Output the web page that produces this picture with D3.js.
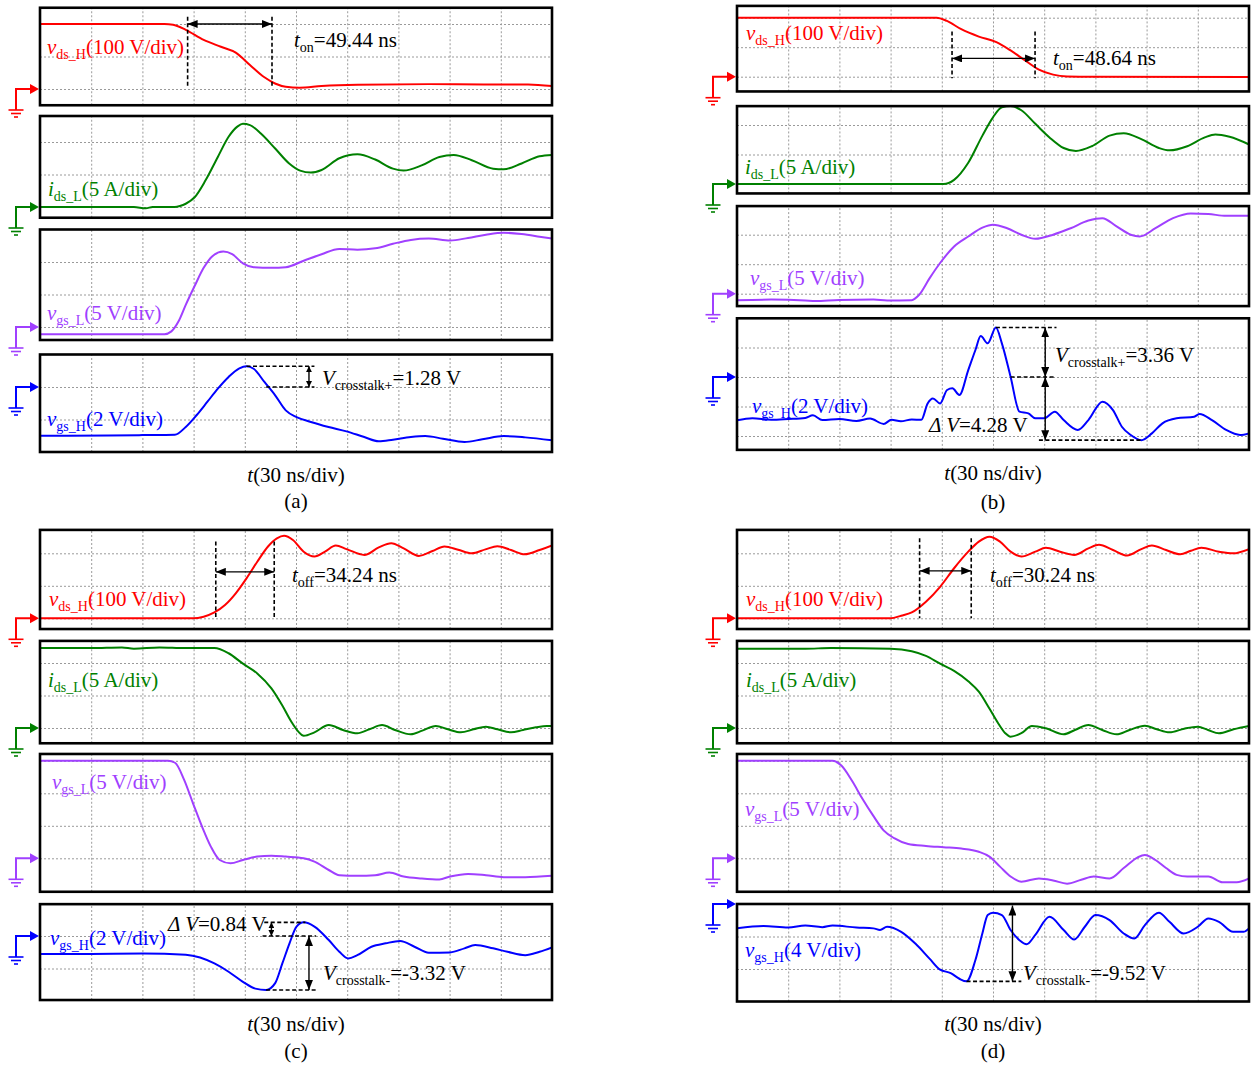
<!DOCTYPE html>
<html>
<head>
<meta charset="utf-8">
<script src="https://cdn.jsdelivr.net/npm/d3@7"></script>
<style>
  body { margin: 0; background: #fff; }
  svg { display: block; }
  text { font-family: "Liberation Serif", "Times New Roman", serif; }
</style>
</head>
<body>
<svg id="chart" width="1254" height="1068"></svg>
<script>
// ---------- time base: 10 divisions x 30 ns ----------
const TIME_SPAN = [0, 300];                 // ns
const timeGrid = [30, 60, 90, 120, 150, 180, 210, 240, 270];

// ---------- (a) turn-on, vgs_H at 2 V/div ----------  [t (ns), value]
const aVdsH = [[0,200],[72.9,200],[78,198],[85.4,182],[95.9,151],[106,130],[114.7,112],[123,74],[131.5,36],[137.7,17],[144,7],[152,4],[165,9],[186,13],[228,15],[260,14],[286,14],[300,9]];
const aIdsL = [[0,0],[55,0],[62,-0.2],[66,0],[79,0],[82,0.15],[85.4,0.5],[90.6,1.5],[97,4.1],[104.2,7.7],[110.5,10.8],[115.8,12.4],[118.9,12.8],[123,12.6],[129.4,11.3],[137.8,9.0],[146,6.7],[152.4,5.6],[158.7,5.3],[165,5.7],[175.4,7.5],[186,8.1],[196.4,7.3],[206.8,5.9],[213,5.6],[223.6,6.4],[234,7.7],[242.4,8.0],[253,7.2],[265.5,5.9],[271.7,5.8],[282.2,6.7],[292.7,7.8],[300,8.0]];
const aVgsL = [[0,-1.1],[72.9,-1.1],[77,-0.67],[81.2,0.87],[85.4,3.4],[90.6,6.3],[95.9,9.1],[101,10.9],[107.4,11.6],[112.6,11.2],[118.9,9.8],[125.2,9.2],[135.6,9.1],[144,9.2],[154.5,10.2],[165,11.2],[175.4,12],[186,11.9],[196.4,12.1],[206.8,12.8],[217.3,13.4],[227.8,13.6],[240.3,13.3],[250.8,13.7],[261.3,14.2],[271.7,14.5],[282.2,14.3],[292.7,13.9],[300,13.6]];
const aVgsH = [[0,-3],[40,-2.98],[60,-2.96],[79,-2.94],[85.4,-2.46],[91.7,-1.74],[98,-0.92],[104.2,-0.1],[110.5,0.62],[116.8,1.15],[121,1.28],[125.2,1.12],[131.5,0.31],[137.8,-0.51],[144,-1.44],[150.3,-1.85],[158.7,-2.15],[169.1,-2.46],[179.6,-2.73],[190,-3.08],[198.5,-3.34],[206.8,-3.24],[217.3,-3.08],[225.7,-3.02],[236.1,-3.18],[248.7,-3.38],[259.2,-3.22],[271.7,-3.02],[284.3,-3.1],[300,-3.28]];

// ---------- (b) turn-on, vgs_H at 2 V/div ----------
const bVdsH = [[0,200],[116.9,200],[123,189],[131.4,161],[141.7,136],[152,117],[160.3,89],[168.6,56],[176.9,24],[185.2,7],[193.4,1],[210,0],[300,-1]];
const bIdsL = [[0,0],[121,0],[127.2,0.7],[135.5,3.6],[143.8,8.2],[150,11.3],[155.2,13],[160.3,13.2],[166.6,12.5],[174.8,10.2],[183.1,7.9],[191.4,6.1],[198.6,5.6],[207.9,6.4],[218.3,8.2],[226.6,8.6],[236.9,7.6],[247.2,6.1],[253.4,5.7],[263.8,6.4],[274.1,7.9],[280.3,8.4],[288.6,8.0],[300,6.7]];
const bVgsL = [[0,-1.1],[20,-1.0],[40,-1.15],[46,-1.25],[60,-1.05],[80,-1.0],[88,-1.15],[102.4,-1.1],[106.6,-0.23],[112.8,2.6],[119,5.2],[127.2,8.0],[135.5,9.7],[143.8,11.2],[150,11.7],[158.3,11.1],[166.6,10],[174.8,9.3],[185.2,10],[195.5,11.1],[205.9,12.4],[214.1,12.8],[222.4,11.4],[230.7,10],[235.9,9.7],[245.2,11.1],[255.5,12.8],[265.9,13.6],[276.2,13.5],[286.6,13.2],[300,13.2]];
const bVgsH = [[0,-2.94],[9,-2.8],[20,-2.9],[30,-2.85],[40,-2.78],[44.5,-2.6],[50,-2.92],[60,-2.85],[70,-2.98],[78,-2.82],[85.9,-3.18],[90.5,-2.9],[96,-3.0],[102.4,-2.88],[108,-2.9],[111.7,-1.79],[114.8,-1.45],[119,-1.79],[123.1,-0.88],[126.2,-0.77],[130.3,-1.22],[135.5,0.47],[139.7,1.83],[142.8,2.78],[146.9,2.28],[151.7,3.36],[155.2,2.28],[160.3,0.02],[165.5,-2.35],[170.7,-2.47],[174.8,-2.8],[180,-2.8],[186.2,-2.35],[191.4,-2.92],[199.7,-3.59],[205.9,-2.92],[214.1,-1.67],[220.3,-2.24],[225.5,-3.37],[230.7,-3.93],[237,-4.28],[243.1,-3.82],[249.3,-3.14],[257.6,-2.8],[267.9,-2.69],[271,-2.51],[278.3,-2.92],[286.6,-3.59],[294.8,-3.93],[300,-3.82]];

// ---------- (c) turn-off, vgs_H at 2 V/div ----------
const cVdsH = [[0,0],[89.6,0],[95.9,5],[102.2,18],[108.4,41],[114.7,77],[121,123],[127.3,174],[133.6,221],[138.8,246],[143,254],[148.2,241],[154.5,205],[160.8,190],[167,205],[173.3,224],[179.6,213],[190,195],[198.5,218],[205.8,231],[213.1,215],[222,192],[230,207],[237,221],[245,211],[253,200],[261,212],[268,222],[276,210],[284,197],[292.7,210],[300,224]];
const cIdsL = [[0,12.3],[30,12.3],[48,12.4],[55,12.2],[70,12.4],[85,12.3],[102.2,12.3],[110.5,11.5],[118.9,9.9],[127.3,8.4],[135.6,6.1],[141.9,3.5],[147.2,1.0],[151.4,-0.56],[154.5,-1.2],[160.8,-0.67],[169.2,0.46],[177.5,-0.3],[185.9,-0.82],[193,-0.2],[200.4,0.46],[208,-0.3],[217.2,-0.97],[224,-0.4],[231.9,0.31],[239,-0.2],[246.6,-0.67],[254,-0.2],[261.3,0.21],[268,-0.2],[276,-0.67],[283,-0.3],[290.6,0.1],[297,0.31],[300,0.3]];
const cVgsL = [[0,15],[75,15],[79.1,14.7],[84.4,12.1],[89.6,8.5],[94.9,4.9],[100.1,1.8],[105.3,-0.26],[111.6,-0.77],[118.9,-0.26],[127.3,0.26],[135.6,0.41],[144,0.26],[154.5,0],[160.8,-0.52],[169.2,-1.8],[175.4,-2.6],[185.9,-2.7],[196.4,-2.6],[204.7,-2.2],[213.1,-2.8],[223.6,-3.1],[234,-3.25],[240.3,-2.8],[250.8,-2.4],[261.3,-2.6],[271.7,-2.9],[284.3,-2.9],[300,-2.7]];
const cVgsH = [[0,-1.11],[30,-1.1],[60.3,-1.07],[85.4,-1.15],[93.8,-1.32],[102.2,-1.69],[110.5,-2.2],[118.9,-2.82],[126.2,-3.24],[132.5,-3.32],[137.8,-2.9],[142,-1.69],[146.2,-0.45],[150.3,0.58],[154.5,0.84],[160.8,0.58],[169.2,-0.25],[175.4,-0.97],[180.6,-1.38],[185.9,-1.18],[194.2,-0.66],[202.6,-0.45],[211,-0.31],[219.4,-0.66],[227.8,-1.03],[240.3,-1.01],[248.7,-0.76],[255,-0.56],[265.5,-0.76],[273.9,-0.97],[284.3,-1.18],[292.7,-0.97],[300,-0.7]];

// ---------- (d) turn-off, vgs_H at 4 V/div ----------
const dVdsH = [[0,0],[90,0],[96.2,8],[102.4,18],[110.7,51],[119,97],[127.2,154],[135.5,205],[141.7,236],[147.9,251],[154.1,236],[160.3,205],[166.6,190],[174.8,205],[181,217],[189.3,205],[197.6,195],[205.9,215],[212.1,226],[220.3,210],[228.6,193],[236.9,213],[243.1,224],[251.4,210],[259.7,197],[266,208],[272.1,217],[282.4,205],[290.7,200],[300,213]];
const dIdsL = [[0,12.2],[40,12.2],[55,12.3],[90,12.2],[102.4,11.8],[110.7,11.1],[119,9.9],[127.2,8.8],[135.5,7.2],[141.7,5.6],[147.9,3.0],[153.1,0.7],[157.2,-0.8],[160.3,-1.33],[166.6,-0.8],[172.8,0.3],[181,-0.05],[191.4,-0.97],[198,-0.3],[205.9,0.46],[214,-0.3],[222.4,-0.97],[230,-0.3],[239,0.36],[246,-0.2],[253.4,-0.67],[262,-0.1],[270,0.2],[276,-0.3],[282.4,-0.82],[291,-0.2],[300,0.31]];
const dVgsL = [[0,15],[55.9,15],[61,14.3],[67.2,12.0],[73.4,9.2],[79.7,6.6],[85.9,4.3],[92.1,3.1],[100.3,2.2],[110.7,1.9],[121,1.7],[131.4,1.5],[141.7,1.0],[147.9,0.26],[154.1,-1.28],[160.3,-2.8],[166.6,-3.6],[176.9,-3.1],[185.2,-3.4],[193.4,-3.9],[201.7,-3.3],[209,-2.8],[218.3,-3.1],[226.6,-1.5],[234.8,0.15],[239,0.5],[245.2,-0.26],[251.4,-1.5],[257.6,-2.55],[263.8,-2.8],[276.2,-2.8],[284.5,-3.7],[292.8,-3.7],[300,-3.1]];
const dVgsH = [[0,-3.0],[15.5,-2.7],[30,-2.9],[40,-2.65],[50,-2.85],[56,-2.65],[70,-2.9],[80,-3.0],[83.8,-3.2],[87.9,-2.8],[96.2,-3.42],[104.5,-4.87],[112.8,-6.72],[119,-8.08],[125.2,-8.5],[130.3,-9.2],[134.5,-9.52],[139.7,-6.9],[143.8,-3.6],[146.9,-1.36],[150,-1.07],[155.2,-1.36],[160.3,-3.2],[165.5,-4.45],[169.7,-4.95],[174.8,-3.8],[183.1,-1.57],[191.4,-3.2],[197.6,-4.37],[203.8,-2.8],[210,-1.36],[218.3,-1.98],[226.6,-3.63],[232.8,-4.25],[239,-2.6],[247.2,-1.07],[253.4,-2.19],[261.7,-3.63],[270,-2.8],[276.2,-1.77],[282.4,-2.19],[290.7,-3.42],[296.9,-3.42],[300,-3.0]];

// ---------- switching-time and crosstalk annotations ----------
const switchName  = ['on', 'on', 'off', 'off'];
const switchDur   = [49.44, 48.64, 34.24, 30.24];  // ns
const switchStart = [86.5, 126, 103, 107];         // ns
const switchLevel = [200, 62, 143, 146];           // V, height of the arrow on v_ds_H
const switchDash  = [[222, 5], [153, -5], [236, 0], [246, 0]]; // V, extent of marker lines
const crosstalkPos = [1.28, 3.36, null, null];     // V
const crosstalkNeg = [null, null, -3.32, -9.52];   // V
const deltaV       = [null, 4.28, 0.84, null];     // V

// ---------- channels ----------
const channels = {
  vds:   { color: '#ff0000', perDiv: 100, name: ['v', 'ds_H', '(100 V/div)'] },
  ids:   { color: '#008000', perDiv: 5,   name: ['i', 'ds_L', '(5 A/div)'] },
  vgsL:  { color: '#a040ff', perDiv: 5,   name: ['v', 'gs_L', '(5 V/div)'] },
  vgsH2: { color: '#0000ff', perDiv: 2,   name: ['v', 'gs_H', '(2 V/div)'] },
  vgsH4: { color: '#0000ff', perDiv: 4,   name: ['v', 'gs_H', '(4 V/div)'] }
};
const captions = ['(a)', '(b)', '(c)', '(d)'];

// ---------- layout ----------
const panels = [
  { x0: 40, x1: 552, tLabelY: 482, capY: 508,
    sw: { x: 294, y: 47 }, rows: [
    { ch: 'vds',   data: aVdsH, zeroY: 89,    divPx: 32.5, top: 2.5,  bot: -0.5,  lx: 47,  ly: 54 },
    { ch: 'ids',   data: aIdsL, zeroY: 207,   divPx: 32.5, top: 2.8,  bot: -0.33, lx: 48,  ly: 196 },
    { ch: 'vgsL',  data: aVgsL, zeroY: 327,   divPx: 32.5, top: 3.0,  bot: -0.4,  lx: 47,  ly: 320 },
    { ch: 'vgsH2', data: aVgsH, zeroY: 387,   divPx: 32.5, top: 1.0,  bot: -2.0,  lx: 47,  ly: 426 }]},
  { x0: 737, x1: 1249, tLabelY: 480, capY: 509,
    sw: { x: 1053, y: 65 }, rows: [
    { ch: 'vds',   data: bVdsH, zeroY: 76.7,  divPx: 29.5, top: 2.4,  bot: -0.5,  lx: 746, ly: 40 },
    { ch: 'ids',   data: bIdsL, zeroY: 184,   divPx: 29.5, top: 2.64, bot: -0.32, lx: 745, ly: 174 },
    { ch: 'vgsL',  data: bVgsL, zeroY: 293.7, divPx: 29.5, top: 2.97, bot: -0.42, lx: 750, ly: 285 },
    { ch: 'vgsH2', data: bVgsH, zeroY: 377,   divPx: 29.5, top: 1.99, bot: -2.47, lx: 752, ly: 413 }]},
  { x0: 40, x1: 552, tLabelY: 1031, capY: 1058,
    sw: { x: 292, y: 582 }, rows: [
    { ch: 'vds',   data: cVdsH, zeroY: 618.3, divPx: 32.5, top: 2.72, bot: -0.33, lx: 49,  ly: 606 },
    { ch: 'ids',   data: cIdsL, zeroY: 728,   divPx: 32.5, top: 2.68, bot: -0.47, lx: 48,  ly: 687 },
    { ch: 'vgsL',  data: cVgsL, zeroY: 858.3, divPx: 32.5, top: 3.21, bot: -1.03, lx: 52,  ly: 789 },
    { ch: 'vgsH2', data: cVgsH, zeroY: 936,   divPx: 32.5, top: 0.98, bot: -1.97, lx: 50,  ly: 945 }]},
  { x0: 737, x1: 1249, tLabelY: 1031, capY: 1058,
    sw: { x: 990, y: 582 }, rows: [
    { ch: 'vds',   data: dVdsH, zeroY: 618.3, divPx: 32.5, top: 2.72, bot: -0.33, lx: 746, ly: 606 },
    { ch: 'ids',   data: dIdsL, zeroY: 728,   divPx: 32.5, top: 2.68, bot: -0.47, lx: 746, ly: 687 },
    { ch: 'vgsL',  data: dVgsL, zeroY: 858.3, divPx: 32.5, top: 3.21, bot: -1.03, lx: 745, ly: 816 },
    { ch: 'vgsH4', data: dVgsH, zeroY: 904,   divPx: 32.5, top: 0,    bot: -3.0,  lx: 745, ly: 957 }]}
];

const FONT = 21, SUB_FONT = 14, SUB_SHIFT = 5;

const svg = d3.select('#chart');
const defs = svg.append('defs');

function addMarker(id, len, wid) {
  defs.append('marker')
    .attr('id', id)
    .attr('viewBox', `0 0 ${len} ${wid}`)
    .attr('refX', len).attr('refY', wid / 2)
    .attr('markerWidth', len).attr('markerHeight', wid)
    .attr('markerUnits', 'userSpaceOnUse')
    .attr('orient', 'auto-start-reverse')
    .append('path')
    .attr('d', `M0,0L${len},${wid / 2}L0,${wid}Z`)
    .attr('fill', '#000');
}
addMarker('ah', 10, 8);
addMarker('ahS', 6, 6);

// text with italic symbol and subscript parts
function richText(g, x, y, parts, fill, anchor) {
  const t = g.append('text')
    .attr('x', x).attr('y', y)
    .attr('fill', fill)
    .attr('font-size', FONT)
    .attr('text-anchor', anchor || 'start');
  let shift = 0;
  parts.forEach(([s, k]) => {
    const sp = t.append('tspan').text(s);
    const target = k === 's' ? SUB_SHIFT : 0;
    if (target !== shift) { sp.attr('dy', target - shift); shift = target; }
    if (k === 's') sp.attr('font-size', SUB_FONT);
    if (k === 'i') sp.attr('font-style', 'italic');
  });
  return t;
}

// probe reference symbol: arrow to the zero level plus ground sign
function groundMarker(g, x0, y0, color) {
  const sx = x0 - 24;
  g.append('path')
    .attr('d', `M${sx},${y0 + 21}V${y0}H${x0 - 9}`)
    .attr('stroke', color).attr('stroke-width', 2).attr('fill', 'none');
  g.append('path')
    .attr('d', `M${x0 - 10},${y0 - 5}L${x0 - 1},${y0}L${x0 - 10},${y0 + 5}Z`)
    .attr('fill', color);
  [[7.5, 21], [5, 24.5], [2, 28]].forEach(([hw, dy]) => {
    g.append('line')
      .attr('x1', sx - hw).attr('x2', sx + hw)
      .attr('y1', y0 + dy).attr('y2', y0 + dy)
      .attr('stroke', color).attr('stroke-width', 1.6);
  });
}

function dashLine(g, x1, y1, x2, y2) {
  g.append('line')
    .attr('x1', x1).attr('y1', y1).attr('x2', x2).attr('y2', y2)
    .attr('stroke', '#000').attr('stroke-width', 1.6)
    .attr('stroke-dasharray', '4,2.5');
}
function dblArrow(g, x1, y1, x2, y2, m) {
  g.append('line')
    .attr('x1', x1).attr('y1', y1).attr('x2', x2).attr('y2', y2)
    .attr('stroke', '#000').attr('stroke-width', 1.4)
    .attr('marker-start', `url(#${m})`).attr('marker-end', `url(#${m})`);
}

panels.forEach((p, pi) => {
  const pg = svg.append('g').attr('class', 'panel');
  const x = d3.scaleLinear().domain(TIME_SPAN).range([p.x0, p.x1]);
  const ys = [];

  p.rows.forEach((r, ri) => {
    const ch = channels[r.ch];
    const yTop = r.zeroY - r.top * r.divPx;
    const yBot = r.zeroY - r.bot * r.divPx;
    const y = d3.scaleLinear()
      .domain([r.bot * ch.perDiv, r.top * ch.perDiv])
      .range([yBot, yTop]);
    ys.push(y);

    const g = pg.append('g');
    const clipId = `clip-${pi}-${ri}`;
    defs.append('clipPath').attr('id', clipId)
      .append('rect').attr('x', p.x0).attr('y', yTop)
      .attr('width', p.x1 - p.x0).attr('height', yBot - yTop);

    // vertical grid: one line per 30 ns
    const gx = g.append('g')
      .attr('transform', `translate(0,${yBot})`)
      .call(d3.axisBottom(x).tickValues(timeGrid).tickSize(-(yBot - yTop)).tickFormat(''));
    // horizontal grid: one line per division inside the frame
    const levels = d3.range(Math.ceil(r.bot), Math.floor(r.top) + 1)
      .filter(k => k - r.bot > 0.15 && r.top - k > 0.15)
      .map(k => k * ch.perDiv);
    const gy = g.append('g')
      .attr('transform', `translate(${p.x0},0)`)
      .call(d3.axisLeft(y).tickValues(levels).tickSize(-(p.x1 - p.x0)).tickFormat(''));
    [gx, gy].forEach(a => {
      a.select('.domain').remove();
      a.selectAll('.tick line')
        .attr('stroke', '#9a9a9a').attr('stroke-width', 1)
        .attr('stroke-dasharray', '2,2');
    });

    // waveform
    const line = d3.line()
      .x(d => x(d[0])).y(d => y(d[1]))
      .curve(d3.curveMonotoneX);
    g.append('path')
      .datum(r.data)
      .attr('clip-path', `url(#${clipId})`)
      .attr('d', line)
      .attr('fill', 'none')
      .attr('stroke', ch.color)
      .attr('stroke-width', 2)
      .attr('stroke-linejoin', 'round');

    // frame
    g.append('rect')
      .attr('x', p.x0).attr('y', yTop)
      .attr('width', p.x1 - p.x0).attr('height', yBot - yTop)
      .attr('fill', 'none').attr('stroke', '#000').attr('stroke-width', 2.6);

    groundMarker(g, p.x0, y(0), ch.color);

    richText(g, r.lx, r.ly,
      [[ch.name[0], 'i'], [ch.name[1], 's'], [ch.name[2], '']], ch.color);
  });

  // switching time on v_ds_H
  const ag = pg.append('g');
  const y0 = ys[0];
  const t1 = switchStart[pi], t2 = switchStart[pi] + switchDur[pi];
  [t1, t2].forEach(t => dashLine(ag, x(t), y0(switchDash[pi][0]), x(t), y0(switchDash[pi][1])));
  dblArrow(ag, x(t1), y0(switchLevel[pi]), x(t2), y0(switchLevel[pi]), 'ah');
  richText(ag, p.sw.x, p.sw.y,
    [['t', 'i'], [switchName[pi], 's'], [`=${switchDur[pi].toFixed(2)} ns`, '']], '#000');

  // gate crosstalk on v_gs_H
  const y3 = ys[3];
  if (pi === 0) {
    const v = crosstalkPos[0];
    dashLine(ag, x(121), y3(v), x(160.8), y3(v));
    dashLine(ag, x(132.5), y3(0), x(160.8), y3(0));
    dblArrow(ag, x(157.6), y3(0), x(157.6), y3(v), 'ahS');
    richText(ag, 322, 385, [['V', 'i'], ['crosstalk+', 's'], [`=${v.toFixed(2)} V`, '']], '#000');
  } else if (pi === 1) {
    const v = crosstalkPos[1], dv = deltaV[1];
    dashLine(ag, x(151.7), y3(v), x(187.2), y3(v));
    dashLine(ag, x(160.3), y3(0), x(186.2), y3(0));
    dashLine(ag, x(176.9), y3(-dv), x(237), y3(-dv));
    dblArrow(ag, x(180.6), y3(0), x(180.6), y3(v), 'ah');
    dblArrow(ag, x(180.6), y3(0), x(180.6), y3(-dv), 'ah');
    richText(ag, 1055, 362, [['V', 'i'], ['crosstalk+', 's'], [`=${v.toFixed(2)} V`, '']], '#000');
    richText(ag, 929, 432, [['Δ ', 'i'], ['V', 'i'], [`=${dv.toFixed(2)} V`, '']], '#000');
  } else if (pi === 2) {
    const v = crosstalkNeg[2], dv = deltaV[2];
    dashLine(ag, x(131.4), y3(dv), x(155.5), y3(dv));
    dashLine(ag, x(130.4), y3(0), x(161.8), y3(0));
    dashLine(ag, x(132.5), y3(v), x(161.8), y3(v));
    dblArrow(ag, x(135.6), y3(0), x(135.6), y3(dv), 'ahS');
    dblArrow(ag, x(157.6), y3(0), x(157.6), y3(v), 'ah');
    richText(ag, 168, 931, [['Δ ', 'i'], ['V', 'i'], [`=${dv.toFixed(2)} V`, '']], '#000');
    richText(ag, 323, 980, [['V', 'i'], ['crosstalk-', 's'], [`=${v.toFixed(2)} V`, '']], '#000');
  } else {
    const v = crosstalkNeg[3];
    dashLine(ag, x(134.5), y3(v), x(166.6), y3(v));
    dblArrow(ag, x(161.4), y3(0) + 1.5, x(161.4), y3(v), 'ah');
    richText(ag, 1023, 980, [['V', 'i'], ['crosstalk-', 's'], [`=${v.toFixed(2)} V`, '']], '#000');
  }

  // time base and caption
  const cx = (p.x0 + p.x1) / 2;
  richText(pg, cx, p.tLabelY, [['t', 'i'], ['(30 ns/div)', '']], '#000', 'middle');
  richText(pg, cx, p.capY, [[captions[pi], '']], '#000', 'middle');
});
</script>
</body>
</html>
